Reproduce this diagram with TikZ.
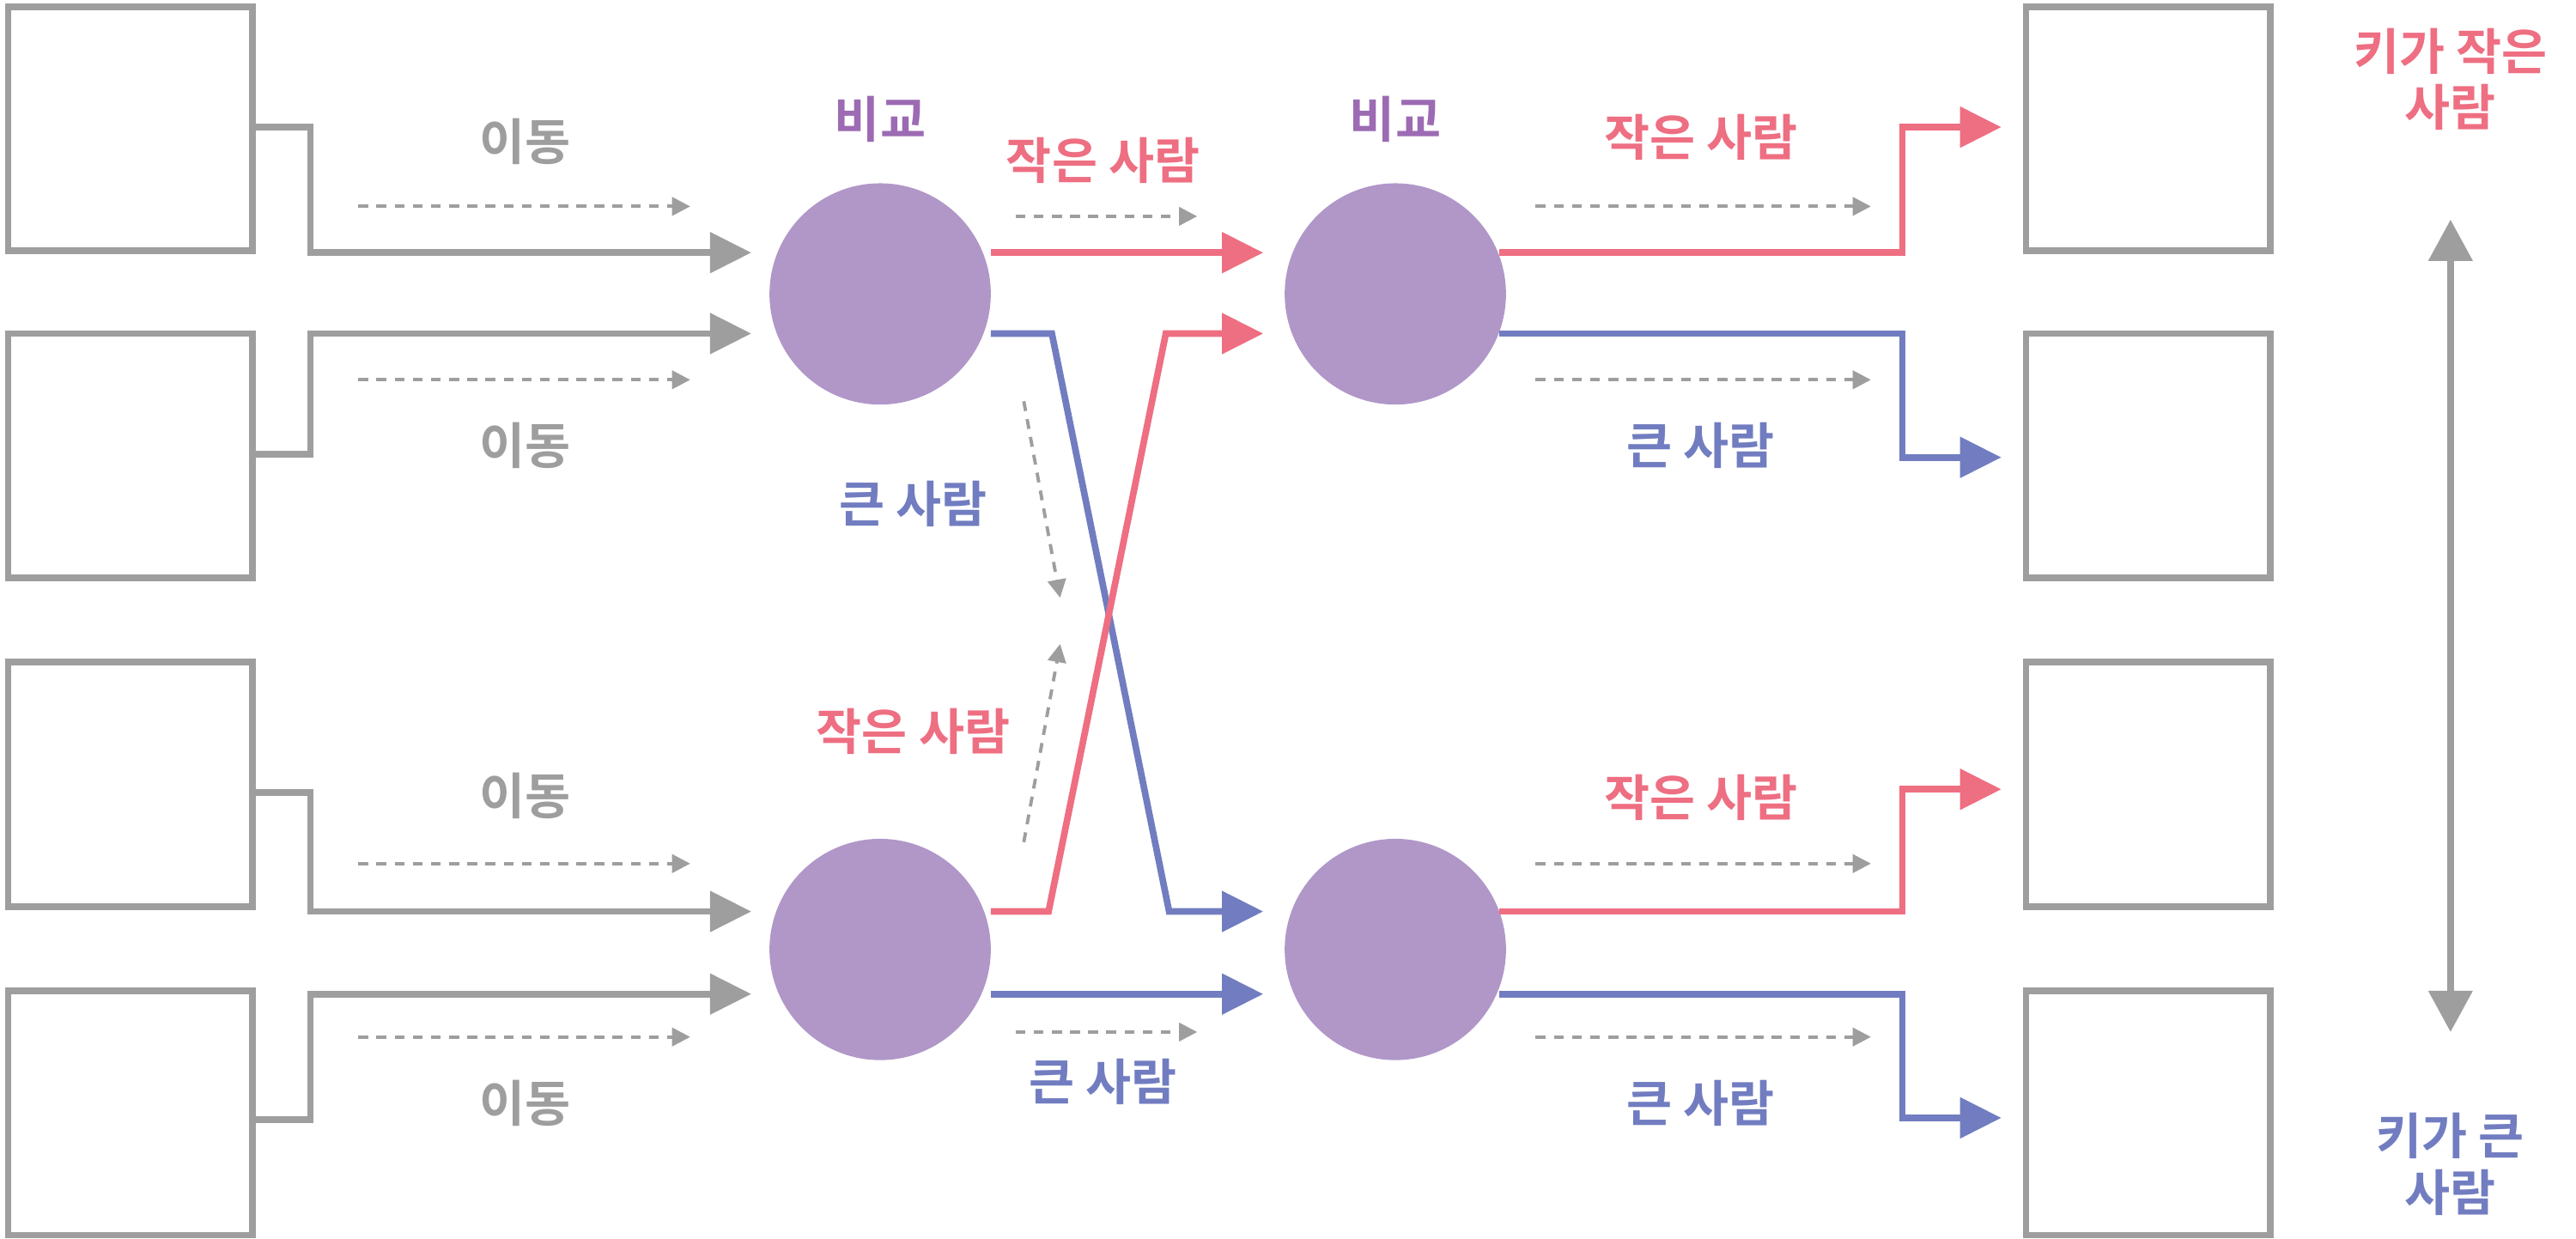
\documentclass[tikz,border=0pt]{standalone}
\usepackage{fontspec}
\newfontfamily\kr{Noto Sans CJK KR}[BoldFont={* Bold}]
\usetikzlibrary{arrows.meta}
\definecolor{cg}{HTML}{9E9E9E}
\definecolor{cr}{HTML}{EE6E82}
\definecolor{cb}{HTML}{717DC0}
\definecolor{cp}{HTML}{B097C8}
\definecolor{tp}{HTML}{9C6BB3}
\begin{document}
\begin{tikzpicture}[x=1pt,y=-1pt,
 box/.style={draw=cg,line width=4pt,minimum width=148pt,minimum height=148pt,inner sep=0},
 cmp/.style={circle,fill=cp,minimum size=134pt,inner sep=0},
 wire/.style={line width=4pt,-{Triangle[length=25pt,width=24pt]}},
 mv/.style={cg,dashed,line width=2pt,dash pattern=on 6pt off 5pt,-{Triangle[length=11pt,width=11pt]}},
 lb/.style={font=\kr\bfseries\fontsize{30}{34}\selectfont,align=center}]
\useasboundingbox (0,0) rectangle (1560,750);
\foreach \n/\y in {1/78,2/276,3/475,4/674}{
 \node[box] (L\n) at (79,\y) {};
 \node[box] (R\n) at (1301,\y) {};}
\node[cmp] (c1) at (533,178) {};
\node[cmp] (c2) at (533,575) {};
\node[cmp] (c3) at (845,178) {};
\node[cmp] (c4) at (845,575) {};
% left inputs
\draw[wire,cg] (155,77) -- (188,77) -- (188,153) -- (455,153);
\draw[wire,cg] (155,275) -- (188,275) -- (188,202) -- (455,202);
\draw[wire,cg] (155,480) -- (188,480) -- (188,552) -- (455,552);
\draw[wire,cg] (155,678) -- (188,678) -- (188,602) -- (455,602);
\foreach \y in {125,230,523,628} \draw[mv] (217,\y) -- (418,\y);
\foreach \y in {86,270,482,668} \node[lb,text=cg] at (318,\y) {이동};
\node[lb,text=tp] at (533,72) {비교};
\node[lb,text=tp] at (845,72) {비교};
% middle
\draw[wire,cr] (600,153) -- (765,153);
\draw[wire,cb] (600,202) -- (637,202) -- (708,552) -- (765,552);
\draw[wire,cr] (600,552) -- (635,552) -- (706,202) -- (765,202);
\draw[wire,cb] (600,602) -- (765,602);
\draw[mv] (615,131) -- (725,131);
\draw[mv] (615,625) -- (725,625);
\draw[mv] (620,243) -- (642,362);
\draw[mv] (620,510) -- (642,390);
\node[lb,text=cr] at (668,97) {작은 사람};
\node[lb,text=cb] at (668,655) {큰 사람};
\node[lb,text=cb] at (553,305) {큰 사람};
\node[lb,text=cr] at (553,443) {작은 사람};
% right
\draw[wire,cr] (908,153) -- (1152,153) -- (1152,77) -- (1212,77);
\draw[wire,cb] (908,202) -- (1152,202) -- (1152,277) -- (1212,277);
\draw[wire,cr] (908,552) -- (1152,552) -- (1152,478) -- (1212,478);
\draw[wire,cb] (908,602) -- (1152,602) -- (1152,677) -- (1212,677);
\foreach \y in {125,230,523,628} \draw[mv] (930,\y) -- (1133,\y);
\node[lb,text=cr] at (1030,83) {작은 사람};
\node[lb,text=cb] at (1030,270) {큰 사람};
\node[lb,text=cr] at (1030,483) {작은 사람};
\node[lb,text=cb] at (1030,668) {큰 사람};
\draw[cg,line width=4pt,{Triangle[length=25pt,width=26pt]}-{Triangle[length=25pt,width=26pt]}] (1484,133) -- (1484,625);
\node[lb,text=cr] at (1484,48) {키가 작은\\사람};
\node[lb,text=cb] at (1484,705) {키가 큰\\사람};
\end{tikzpicture}
\end{document}
